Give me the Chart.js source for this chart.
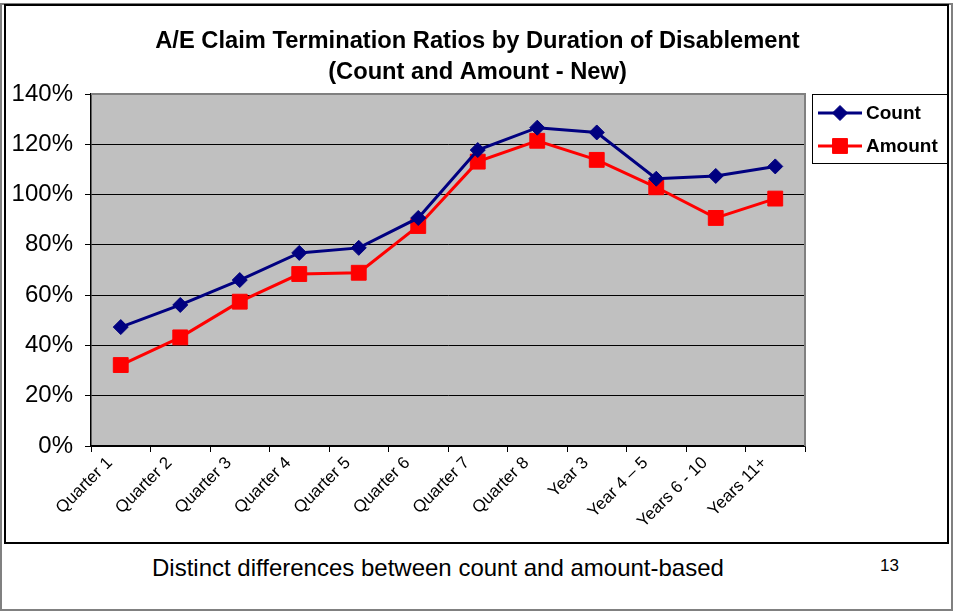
<!DOCTYPE html>
<html><head><meta charset="utf-8">
<script src="https://cdn.jsdelivr.net/npm/chart.js@4.4.1/dist/chart.umd.min.js"></script>
<style>
html,body{margin:0;padding:0;background:#fff;}
#page{position:relative;width:955px;height:611px;overflow:hidden;font-family:"Liberation Sans",Arial,sans-serif;}
#outer{position:absolute;left:0;top:3px;width:949px;height:604px;border:2px solid #808080;}
#box{position:absolute;left:4px;top:4px;width:941px;height:536px;border:2px solid #000;}
#wrap{position:absolute;left:0;top:0;width:955px;height:542px;}
#note{position:absolute;left:152px;top:556px;font-size:24px;line-height:24px;white-space:nowrap;}
#num{position:absolute;left:880px;top:557px;font-size:17px;line-height:17px;}
</style></head>
<body>
<div id="page">
  <div id="outer"></div>
  <div id="box"></div>
  <div id="wrap"><canvas id="c" width="955" height="542"></canvas></div>
  <div id="note">Distinct differences between count and amount-based</div>
  <div id="num">13</div>
</div>
<script>
const categories = ['Quarter 1','Quarter 2','Quarter 3','Quarter 4','Quarter 5','Quarter 6','Quarter 7','Quarter 8','Year 3','Year 4 \u2013 5','Years 6 - 10','Years 11+'];
const countValues = [47.3, 56.1, 66.0, 76.8, 78.8, 90.7, 117.7, 126.6, 124.7, 106.3, 107.4, 111.2];
const amountValues = [32.2, 43.2, 57.4, 68.4, 68.9, 87.5, 113.1, 121.4, 113.8, 102.9, 90.7, 98.4];
const seriesNames = ['Count', 'Amount'];
const titleLines = ['A/E Claim Termination Ratios by Duration of Disablement', '(Count and Amount - New)'];
const yMin = 0, yMax = 140, yStep = 20;

const FONT = '"Liberation Sans", Arial, sans-serif';

const plotBg = {
  id: 'plotBg',
  beforeDraw(chart) {
    const {ctx, chartArea: a} = chart;
    ctx.save();
    ctx.fillStyle = '#C0C0C0';
    ctx.fillRect(a.left, a.top, a.right - a.left, a.bottom - a.top);
    ctx.restore();
  },
  beforeDatasetsDraw(chart) {
    const {ctx, chartArea: a} = chart;
    ctx.save();
    ctx.strokeStyle = '#808080';
    ctx.lineWidth = 2;
    ctx.beginPath();
    ctx.moveTo(a.left, a.top);
    ctx.lineTo(a.right, a.top);
    ctx.lineTo(a.right, a.bottom);
    ctx.stroke();
    ctx.restore();
  }
};

const boxLegend = {
  id: 'boxLegend',
  afterDraw(chart) {
    const {ctx, chartArea: a} = chart;
    const x0 = a.right + 7, y0 = a.top, w = 135, h = 69;
    ctx.save();
    ctx.fillStyle = '#fff';
    ctx.fillRect(x0, y0, w, h);
    ctx.strokeStyle = '#000';
    ctx.lineWidth = 1;
    ctx.strokeRect(x0 + 0.5, y0 + 0.5, w, h);
    chart.data.datasets.forEach((ds, i) => {
      const y = y0 + 19 + i * 33;
      ctx.strokeStyle = ds.borderColor;
      ctx.lineWidth = 3;
      ctx.beginPath();
      ctx.moveTo(x0 + 6, y);
      ctx.lineTo(x0 + 50, y);
      ctx.stroke();
      ctx.fillStyle = ds.pointBackgroundColor;
      ctx.strokeStyle = ds.pointBorderColor;
      ctx.lineWidth = 1;
      Chart.helpers.drawPoint(ctx, {pointStyle: ds.pointStyle, radius: ds.pointRadius, borderWidth: 1, rotation: 0}, x0 + 28, y);
      ctx.fillStyle = '#000';
      ctx.font = 'bold 19px ' + FONT;
      ctx.textBaseline = 'middle';
      ctx.textAlign = 'left';
      ctx.fillText(ds.label, x0 + 54, y + 1);
    });
    ctx.restore();
  }
};

new Chart(document.getElementById('c'), {
  type: 'line',
  data: {
    labels: categories,
    datasets: [
      {
        label: seriesNames[0], data: countValues,
        borderColor: '#000080', backgroundColor: '#000080',
        pointBackgroundColor: '#000080', pointBorderColor: '#000080',
        borderWidth: 3, pointStyle: 'rectRot', pointRadius: 7.5, pointBorderWidth: 1,
        tension: 0, clip: false
      },
      {
        label: seriesNames[1], data: amountValues,
        borderColor: '#FF0000', backgroundColor: '#FF0000',
        pointBackgroundColor: '#FF0000', pointBorderColor: '#FF0000',
        borderWidth: 3, pointStyle: 'rect', pointRadius: 10.5, pointBorderWidth: 1,
        tension: 0, clip: false
      }
    ]
  },
  options: {
    responsive: false,
    animation: false,
    layout: { padding: { left: 0, right: 0, top: 0, bottom: 0 } },
    plugins: {
      legend: { display: false },
      tooltip: { enabled: false },
      title: {
        display: true,
        text: titleLines,
        color: '#000',
        font: { family: FONT, size: 23.7, weight: 'bold', lineHeight: 31 / 23.7 },
        padding: { top: 26, bottom: 6 }
      }
    },
    scales: {
      x: {
        type: 'category',
        offset: true,
        afterFit(s) { s.height = 96; },
        grid: { display: true, offset: true, drawOnChartArea: false, drawTicks: true, tickLength: 6, tickColor: '#000', color: '#000' },
        border: { display: true, color: '#000', width: 1.5 },
        ticks: {
          color: '#000', autoSkip: false, maxRotation: 45, minRotation: 45, padding: 1, labelOffset: -11,
          font: { family: FONT, size: 17 }
        }
      },
      y: {
        min: yMin, max: yMax,
        afterFit(s) { s.width = 91; },
        grid: {
          color: (c) => (c.tick && c.tick.value === yMax) ? 'rgba(0,0,0,0)' : '#000',
          tickColor: '#000', lineWidth: 1, tickLength: 6, drawTicks: true
        },
        border: { display: true, color: '#000', width: 1.5 },
        ticks: {
          stepSize: yStep, color: '#000', padding: 12,
          font: { family: FONT, size: 24 },
          callback: (v) => v + '%'
        }
      },
      legendSpace: {
        type: 'linear', position: 'right', display: true,
        afterFit(s) { s.width = 150; },
        grid: { display: false, drawOnChartArea: false },
        border: { display: false },
        ticks: { display: false }
      }
    }
  },
  plugins: [plotBg, boxLegend]
});
</script>
</body></html>
